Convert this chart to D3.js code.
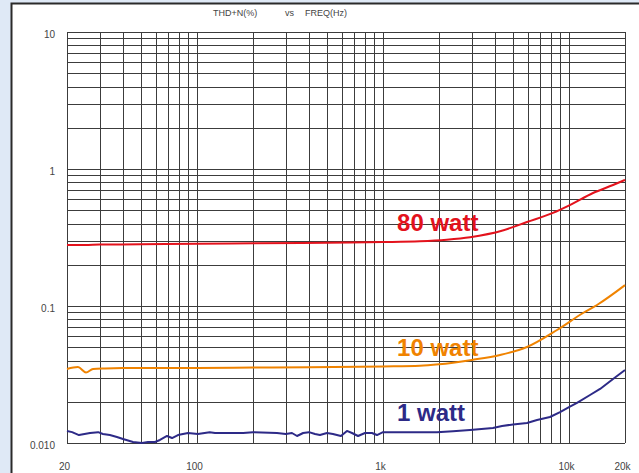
<!DOCTYPE html>
<html>
<head>
<meta charset="utf-8">
<title>THD+N vs FREQ</title>
<script src="https://cdn.jsdelivr.net/npm/d3@7"></script>
<style>
  html, body { margin: 0; padding: 0; background: #fff; }
  svg { display: block; }
  text { font-family: "Liberation Sans", Arial, sans-serif; }
</style>
</head>
<body>
<svg id="chart" width="639" height="473"></svg>
<script>
// tick labels
const xTicks = [20, 100, 1000, 10000, 20000];
const xTickLabels = ["20", "100", "1k", "10k", "20k"];
const yTicks = [10, 1, 0.1, 0.01];
const yTickLabels = ["10", "1", "0.1", "0.010"];

// 80 watt
const freq80 = [20, 25, 30, 50, 100, 200, 500, 1000, 1580, 2200, 2940, 4400, 5940, 8200, 10100, 13460, 17250, 20000];
const thd80 = [0.279, 0.279, 0.281, 0.282, 0.285, 0.287, 0.290, 0.293, 0.297, 0.305, 0.318, 0.356, 0.41, 0.478, 0.545, 0.668, 0.764, 0.832];

// 10 watt
const freq10 = [20, 22.9, 25.3, 27.6, 32, 40, 60, 100, 200, 400, 1000, 1580, 2000, 3000, 4260, 5940, 8620, 11900, 14140, 20000];
const thd10 = [0.0347, 0.0358, 0.0327, 0.0347, 0.0350, 0.0352, 0.0352, 0.0353, 0.0355, 0.0357, 0.0362, 0.0366, 0.0375, 0.0404, 0.0439, 0.0502, 0.0668, 0.0889, 0.1017, 0.142];

// 1 watt
const freq1 = [20, 21.3, 23.2, 26.6, 29.4, 31.2, 34.0, 37.1, 40, 45.3, 50.6, 54.5, 59.4, 63.2, 69.0, 73.4, 79.0, 89.5, 101, 117, 125, 145, 177, 200, 269, 300, 324, 345, 372, 400, 431, 458, 500, 538, 594, 640, 681, 734, 800, 872, 928, 1000, 1280, 1582, 1950, 2378, 2936, 3900, 4365, 5000, 5944, 6730, 7900, 8950, 10000, 11040, 12970, 14690, 17250, 20000];
const thd1 = [0.01225, 0.0120, 0.01143, 0.01183, 0.0120, 0.01164, 0.01143, 0.01107, 0.01070, 0.01017, 0.0100, 0.01017, 0.01017, 0.01052, 0.01125, 0.01087, 0.01143, 0.01183, 0.01164, 0.0120, 0.01183, 0.01183, 0.01183, 0.0120, 0.01183, 0.01164, 0.01183, 0.01125, 0.01183, 0.0120, 0.01164, 0.01143, 0.01183, 0.01164, 0.01125, 0.01225, 0.01183, 0.01125, 0.01183, 0.01183, 0.01143, 0.0120, 0.0120, 0.0120, 0.0120, 0.0122, 0.01245, 0.01285, 0.0133, 0.01366, 0.0140, 0.01472, 0.01548, 0.01683, 0.0183, 0.0196, 0.0224, 0.0248, 0.0293, 0.0341];

// series names, label anchor (freq, thd) in data units
const names = ["80 watt", "10 watt", "1 watt"];
const labelAt = [[1190, 0.353], [1190, 0.0431], [1190, 0.01449]];

const series = [
  { name: names[0], freq: freq80, thd: thd80, color: "#e3121c", curve: d3.curveMonotoneX, label: labelAt[0] },
  { name: names[1], freq: freq10, thd: thd10, color: "#f08300", curve: d3.curveMonotoneX, label: labelAt[1] },
  { name: names[2], freq: freq1, thd: thd1, color: "#2d2a87", curve: d3.curveLinear, label: labelAt[2] }
];

const svg = d3.select("#chart");
const W = 639, H = 473;

// frame / background
svg.append("rect").attr("width", W).attr("height", H).attr("fill", "#dfe9f6");
svg.append("rect").attr("x", 11).attr("y", 3).attr("width", W - 11).attr("height", H - 3)
  .attr("fill", "#fff");
svg.append("path").attr("d", `M11.5,${H} V3.5 H${W}`).attr("fill", "none")
  .attr("stroke", "#2a2a2a").attr("stroke-width", 2);

const x = d3.scaleLog().domain([20, 20000]).range([67, 625]);
const y = d3.scaleLog().domain([0.01, 10]).range([443, 32]);

// grid
const grid = svg.append("g").attr("shape-rendering", "crispEdges");
const xGrid = [];
for (let dec = 10; dec <= 10000; dec *= 10)
  for (let m = 1; m <= 9; m++) {
    const v = m * dec;
    if (v >= 20 && v <= 20000) xGrid.push(v);
  }
xGrid.push(20000);
const yGrid = [];
for (let dec = 0.01; dec < 10; dec *= 10)
  for (let m = 1; m <= 9; m++) yGrid.push(m * dec);
yGrid.push(10);

grid.selectAll("line.v").data(xGrid).join("line")
  .attr("x1", d => Math.round(x(d)) + 0.5).attr("x2", d => Math.round(x(d)) + 0.5)
  .attr("y1", y(10)).attr("y2", y(0.01))
  .attr("stroke", "#3c3c3c").attr("stroke-width", 1);
grid.selectAll("line.h").data(yGrid).join("line")
  .attr("y1", d => Math.round(y(d)) + 0.5).attr("y2", d => Math.round(y(d)) + 0.5)
  .attr("x1", x(20)).attr("x2", x(20000))
  .attr("stroke", "#3c3c3c").attr("stroke-width", 1);

// axis labels (d3 axes, domain hidden)
const xAxis = svg.append("g").attr("transform", "translate(-3,460)")
  .call(d3.axisBottom(x).tickValues(xTicks).tickSize(0)
    .tickFormat((d, i) => xTickLabels[i]));
xAxis.select(".domain").remove();
xAxis.selectAll("text").attr("font-size", 10).attr("fill", "#444")
  .attr("font-family", "Liberation Sans, Arial, sans-serif");

const yAxis = svg.append("g").attr("transform", "translate(58,2)")
  .call(d3.axisLeft(y).tickValues(yTicks).tickSize(0)
    .tickFormat((d, i) => yTickLabels[i]));
yAxis.select(".domain").remove();
yAxis.selectAll("text").attr("font-size", 10).attr("fill", "#444")
  .attr("font-family", "Liberation Sans, Arial, sans-serif");

// title
const title = svg.append("g").attr("font-size", 9).attr("fill", "#444");
title.append("text").attr("x", 213).attr("y", 16).text("THD+N(%)");
title.append("text").attr("x", 285).attr("y", 16).text("vs");
title.append("text").attr("x", 305).attr("y", 16).text("FREQ(Hz)");

// curves
series.forEach(s => {
  const pts = s.freq.map((f, i) => [f, s.thd[i]]);
  svg.append("path").datum(pts)
    .attr("fill", "none").attr("stroke", s.color).attr("stroke-width", 2)
    .attr("stroke-linejoin", "round")
    .attr("d", d3.line().x(d => x(d[0])).y(d => y(d[1])).curve(s.curve));
  svg.append("text").attr("x", x(s.label[0])).attr("y", y(s.label[1]))
    .attr("font-size", 24).attr("font-weight", "bold").attr("fill", s.color)
    .attr("font-family", "Liberation Sans, Arial, sans-serif")
    .text(s.name);
});
</script>
</body>
</html>
